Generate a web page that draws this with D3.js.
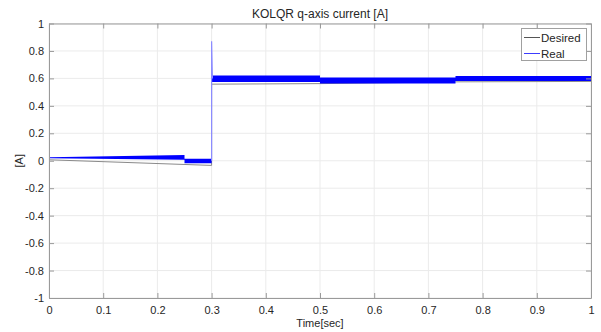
<html>
<head>
<meta charset="utf-8">
<style>
  body { margin: 0; background: #fff; }
  text { font-family: "Liberation Sans", Arial, sans-serif; fill: #262626; }
</style>
<script src="https://cdnjs.cloudflare.com/ajax/libs/d3/7.8.5/d3.min.js"></script>
</head>
<body>
<svg id="chart" width="601" height="332"></svg>
<script>
// tick labels
var xTicks = [0, 0.1, 0.2, 0.3, 0.4, 0.5, 0.6, 0.7, 0.8, 0.9, 1];
var yTicks = [-1, -0.8, -0.6, -0.4, -0.2, 0, 0.2, 0.4, 0.6, 0.8, 1];

// desired q-axis current
var desiredT = [0, 0.3, 0.3, 0.5, 0.75, 1];
var desiredV = [0.007, -0.034, 0.558, 0.562, 0.575, 0.578];

// real current: envelope of the fast ripple band
var realT    = [0, 0.25, 0.25, 0.3, 0.3, 0.5, 0.5, 0.75, 0.75, 1];
var realLow  = [0.018, 0.008, -0.018, -0.018, 0.573, 0.573, 0.563, 0.563, 0.581, 0.581];
var realHigh = [0.026, 0.042, 0.015, 0.015, 0.621, 0.621, 0.607, 0.607, 0.617, 0.617];

// transient spike at the step
var spikeT = [0.3, 0.3, 0.3015];
var spikeV = [0, 0.87, 0.6];

var svg = d3.select("#chart");
var pL = 49, pR = 591, pT = 23.5, pB = 298;
var x = d3.scaleLinear().domain([0, 1]).range([pL, pR]);
var y = d3.scaleLinear().domain([-1, 1]).range([pB, pT]);

// grid
svg.append("g").selectAll("line").data(xTicks).enter().append("line")
  .attr("x1", function(d){ return x(d); }).attr("x2", function(d){ return x(d); })
  .attr("y1", pT).attr("y2", pB)
  .attr("stroke", "#ebebeb").attr("stroke-width", 1);
svg.append("g").selectAll("line").data(yTicks).enter().append("line")
  .attr("y1", function(d){ return y(d); }).attr("y2", function(d){ return y(d); })
  .attr("x1", pL).attr("x2", pR)
  .attr("stroke", "#ebebeb").attr("stroke-width", 1);

// desired
var line = d3.line().x(function(d){ return x(d[0]); }).y(function(d){ return y(d[1]); });
svg.append("path")
  .attr("d", line(d3.zip(desiredT, desiredV)))
  .attr("fill", "none").attr("stroke", "#8a8a8a").attr("stroke-width", 1);

// real band
var band = d3.area()
  .x(function(d, i){ return x(realT[i]); })
  .y0(function(d, i){ return y(realLow[i]); })
  .y1(function(d, i){ return y(realHigh[i]); });
svg.append("path")
  .attr("d", band(realT))
  .attr("fill", "#0000ff");

svg.append("path")
  .attr("d", line(d3.zip(spikeT, spikeV)))
  .attr("fill", "none").attr("stroke", "#8c8cff").attr("stroke-width", 1.2);

// axes (MATLAB style: ticks inside, box)
var fmt = function(d){ return String(d); };
var axB = d3.axisBottom(x).tickValues(xTicks).tickSizeInner(-5).tickSizeOuter(0).tickPadding(8)
  .tickFormat(fmt);
var axL = d3.axisLeft(y).tickValues(yTicks).tickSizeInner(-5).tickSizeOuter(0).tickPadding(5)
  .tickFormat(fmt);
var axT = d3.axisTop(x).tickValues(xTicks).tickSizeInner(-5).tickSizeOuter(0).tickFormat("");
var axR = d3.axisRight(y).tickValues(yTicks).tickSizeInner(-5).tickSizeOuter(0).tickFormat("");

function style(g) {
  g.selectAll("path").attr("stroke", "#9a9a9a");
  g.selectAll("line").attr("stroke", "#9a9a9a");
  g.selectAll("text").attr("font-size", 11).attr("fill", "#262626")
    .attr("font-family", "Liberation Sans, Arial, sans-serif");
}
svg.append("g").attr("transform", "translate(0," + pB + ")").call(axB).call(style);
svg.append("g").attr("transform", "translate(" + pL + ",0)").call(axL).call(style);
svg.append("g").attr("transform", "translate(0," + pT + ")").call(axT).call(style);
svg.append("g").attr("transform", "translate(" + pR + ",0)").call(axR).call(style);

// labels
svg.append("text").attr("x", (pL + pR) / 2).attr("y", 18)
  .attr("text-anchor", "middle").attr("font-size", 12).text("KOLQR q-axis current [A]");
svg.append("text").attr("x", (pL + pR) / 2).attr("y", 327)
  .attr("text-anchor", "middle").attr("font-size", 11).text("Time[sec]");
svg.append("text").attr("transform", "translate(23," + y(0) + ") rotate(-90)")
  .attr("text-anchor", "middle").attr("font-size", 11).text("[A]");

// legend
var lg = svg.append("g");
lg.append("rect").attr("x", 521.5).attr("y", 28.5).attr("width", 65).attr("height", 32)
  .attr("fill", "#fff").attr("stroke", "#a0a0a0").attr("stroke-width", 1);
var legendNames = ["Desired", "Real"];
var legendColors = ["#555", "#3c3cff"];
legendNames.forEach(function(n, i) {
  var yy = 37.5 + i * 16;
  lg.append("line").attr("x1", 524).attr("x2", 540).attr("y1", yy).attr("y2", yy)
    .attr("stroke", legendColors[i]).attr("stroke-width", 1);
  lg.append("text").attr("x", 541).attr("y", yy + 4).attr("font-size", 11.5).text(n);
});
</script>
</body>
</html>
